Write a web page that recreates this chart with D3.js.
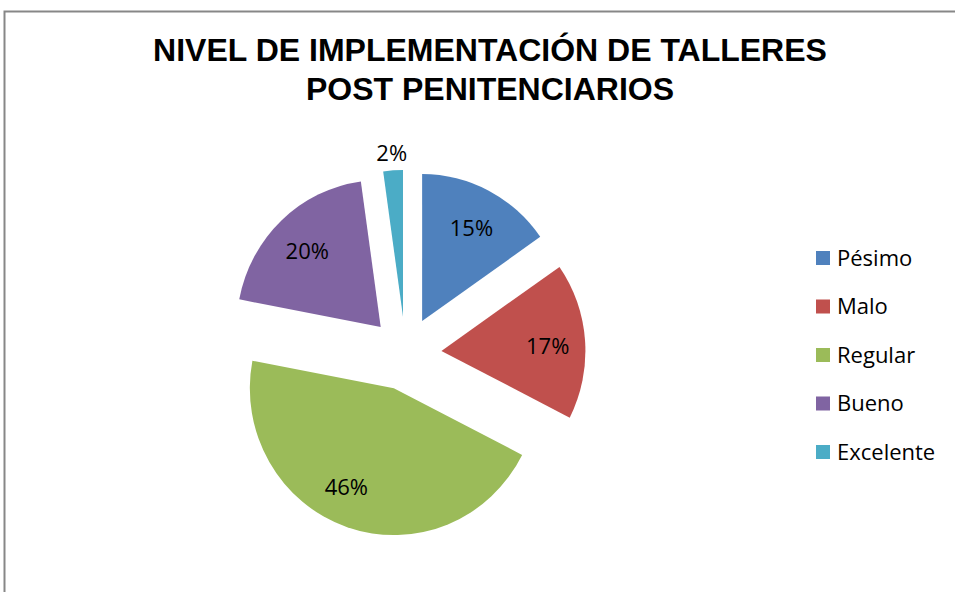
<!DOCTYPE html>
<html>
<head>
<meta charset="utf-8">
<script src="https://cdn.jsdelivr.net/npm/d3@7"></script>
<style>
  html, body { margin: 0; padding: 0; background: #fff; }
  svg { display: block; }
</style>
</head>
<body>
<div id="chart"></div>
<script>
var categories = ['Pésimo', 'Malo', 'Regular', 'Bueno', 'Excelente'];
var values = [15.3, 17.2, 45.5, 19.8, 2.2];
var colors = ['#4F81BD', '#C0504D', '#9BBB59', '#8064A2', '#4BACC6'];
var titleLines = ['NIVEL DE IMPLEMENTACIÓN DE TALLERES', 'POST PENITENCIARIOS'];

var w = 955, h = 592;
var cx = 405.5, cy = 353.5, r = 144, sy = 1.02, explode = 36;

var svg = d3.select('#chart').append('svg')
  .attr('width', w).attr('height', h);

// chart frame (only left and top edges are visible)
svg.append('rect')
  .attr('x', 4.5).attr('y', 11.5)
  .attr('width', 1000).attr('height', 700)
  .attr('fill', 'none')
  .attr('stroke', '#878787')
  .attr('stroke-width', 2);

svg.selectAll('text.title')
  .data(titleLines)
  .enter()
  .append('text')
  .attr('class', 'title')
  .attr('x', 490)
  .attr('y', function(d, i) { return 61 + i * 38.5; })
  .attr('text-anchor', 'middle')
  .attr('font-family', 'Liberation Sans, Arial, sans-serif')
  .attr('font-weight', 'bold')
  .attr('font-size', '32px')
  .attr('fill', '#000')
  .text(function(d) { return d; });

var pie = d3.pie().sort(null).value(function(d) { return d; });
var arcs = pie(values);
var arc = d3.arc().innerRadius(0).outerRadius(r);

function mid(d) { return (d.startAngle + d.endAngle) / 2; }

var g = svg.append('g')
  .attr('transform', 'translate(' + cx + ',' + cy + ') scale(1,' + sy + ')');

g.selectAll('path')
  .data(arcs)
  .enter()
  .append('path')
  .attr('d', arc)
  .attr('fill', function(d, i) { return colors[i]; })
  .attr('transform', function(d) {
    var a = mid(d);
    return 'translate(' + (Math.sin(a) * explode) + ',' + (-Math.cos(a) * explode) + ')';
  });

// excel's "best fit" pulls the big slice's label a little off its bisector
var nudge = { Regular: [-13, -7] };

function labelPos(d, i) {
  var dist = d.value < 5 ? r + 20 : r * 0.74;
  var a = mid(d);
  var n = nudge[categories[i]] || [0, 0];
  return [cx + Math.sin(a) * (explode + dist) + n[0],
          cy - Math.cos(a) * (explode + dist) * sy + n[1]];
}

svg.selectAll('text.pct')
  .data(arcs)
  .enter()
  .append('text')
  .attr('class', 'pct')
  .attr('x', function(d, i) { return labelPos(d, i)[0]; })
  .attr('y', function(d, i) { return labelPos(d, i)[1]; })
  .attr('dy', '0.5em')
  .attr('text-anchor', 'middle')
  .attr('font-family', 'Open Sans, sans-serif')
  .attr('font-size', '22px')
  .attr('fill', '#000')
  .text(function(d) { return Math.round(d.value) + '%'; });

var legend = svg.selectAll('g.legend')
  .data(categories)
  .enter()
  .append('g')
  .attr('class', 'legend')
  .attr('transform', function(d, i) { return 'translate(816,' + (258 + i * 48.5) + ')'; });

legend.append('rect')
  .attr('x', 0).attr('y', -7)
  .attr('width', 14).attr('height', 14)
  .attr('fill', function(d, i) { return colors[i]; });

legend.append('text')
  .attr('x', 21)
  .attr('y', 0)
  .attr('dy', '0.35em')
  .attr('font-family', 'Open Sans, sans-serif')
  .attr('font-size', '22px')
  .attr('fill', '#000')
  .text(function(d) { return d; });
</script>
</body>
</html>
